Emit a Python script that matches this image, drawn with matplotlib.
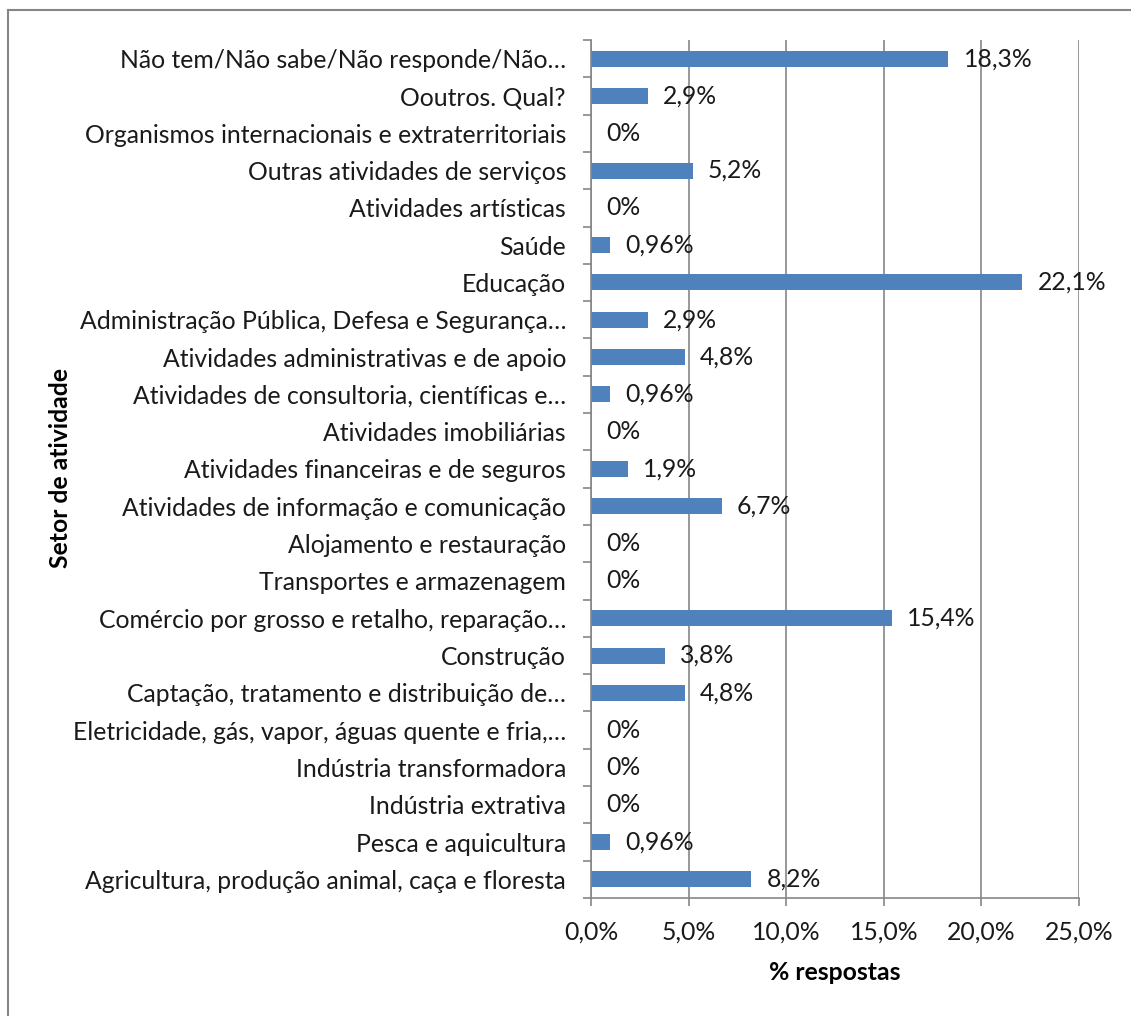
import numpy as np
import matplotlib
matplotlib.use("Agg")
from matplotlib import pyplot as plt
from matplotlib.lines import Line2D

plt.rcParams['font.family'] = ['Lato', 'DejaVu Sans']

# categories from top to bottom
setores = [
    "Não tem/Não sabe/Não responde/Não…",
    "Ooutros. Qual?",
    "Organismos internacionais e extraterritoriais",
    "Outras atividades de serviços",
    "Atividades artísticas",
    "Saúde",
    "Educação",
    "Administração Pública, Defesa e Segurança…",
    "Atividades administrativas e de apoio",
    "Atividades de consultoria, científicas e…",
    "Atividades imobiliárias",
    "Atividades financeiras e de seguros",
    "Atividades de informação e comunicação",
    "Alojamento e restauração",
    "Transportes e armazenagem",
    "Comércio por grosso e retalho, reparação…",
    "Construção",
    "Captação, tratamento e distribuição de…",
    "Eletricidade, gás, vapor, águas quente e fria,…",
    "Indústria transformadora",
    "Indústria extrativa",
    "Pesca e aquicultura",
    "Agricultura, produção animal, caça e floresta",
]
percent = [18.3, 2.9, 0, 5.2, 0, 0.96, 22.1, 2.9, 4.8, 0.96, 0, 1.9, 6.7,
           0, 0, 15.4, 3.8, 4.8, 0, 0, 0, 0.96, 8.2]
rotulos = ["18,3%", "2,9%", "0%", "5,2%", "0%", "0,96%", "22,1%", "2,9%",
           "4,8%", "0,96%", "0%", "1,9%", "6,7%", "0%", "0%", "15,4%",
           "3,8%", "4,8%", "0%", "0%", "0%", "0,96%", "8,2%"]
xticks = [0, 5, 10, 15, 20, 25]
xticklabels = ["0,0%", "5,0%", "10,0%", "15,0%", "20,0%", "25,0%"]

grey = '#868686'
fs = 17.8

fig = plt.figure(figsize=(11.31, 10.16), dpi=100)
ax = fig.add_axes([591/1131, 1-898/1016, (1079-591)/1131, (898-40)/1016])

y = np.arange(len(setores))
ax.barh(y, percent, height=0.43, color='#4F81BD', zorder=3)
for yi, v, lab in zip(y, percent, rotulos):
    ax.annotate(lab, (v, yi), xytext=(11, 0), textcoords='offset points',
                va='center', ha='left', fontsize=fs, color='#1a1a1a', zorder=4)

ax.set_xlim(0, 25)
ax.set_ylim(len(setores)-0.5, -0.5)
ax.set_xticks(xticks)
ax.set_xticklabels(xticklabels, fontsize=fs, color='#1a1a1a')
ax.set_yticks(y)
ax.set_yticklabels(setores, fontsize=fs, color='#1a1a1a')
ax.set_yticks(np.arange(len(setores)+1)-0.5, minor=True)
ax.tick_params(axis='y', which='major', length=0, pad=18)
ax.tick_params(axis='y', which='minor', length=6, color=grey, width=1.2)
ax.tick_params(axis='x', length=6, color=grey, width=1.2, pad=10)

ax.grid(axis='x', color=grey, linewidth=1.2, zorder=1)
for s in ['top', 'right']:
    ax.spines[s].set_visible(False)
for s in ['left', 'bottom']:
    ax.spines[s].set_color(grey)
    ax.spines[s].set_linewidth(1.2)
    ax.spines[s].set_zorder(5)

fig.text(835/1131, 1-972/1016, "% respostas", fontsize=fs, fontweight='bold',
         ha='center', va='center')
fig.text(60/1131, 1-468/1016, "Setor de atividade", fontsize=fs, fontweight='bold',
         ha='center', va='center', rotation=90)

# outer chart border (left and top visible)
fig.add_artist(Line2D([8/1131, 8/1131], [0, 1-10/1016], transform=fig.transFigure,
                      color=grey, linewidth=1.5))
fig.add_artist(Line2D([8/1131, 1], [1-10/1016, 1-10/1016], transform=fig.transFigure,
                      color=grey, linewidth=1.5))

fig.savefig("out.png", dpi=100)
